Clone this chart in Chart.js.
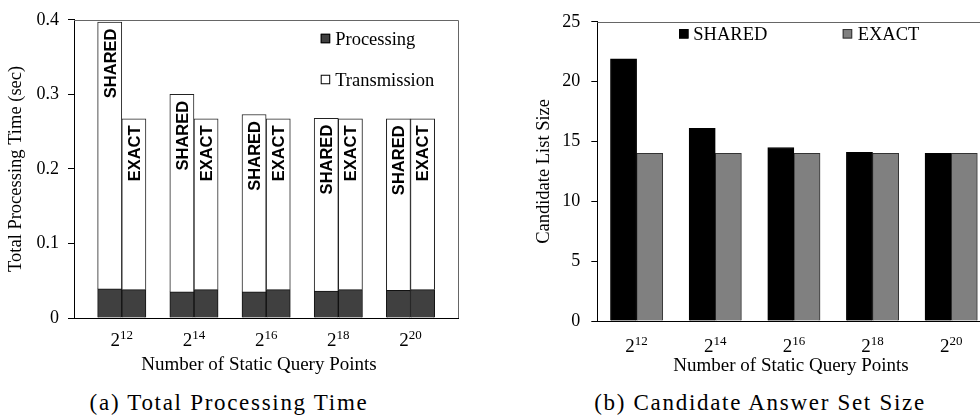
<!DOCTYPE html>
<html>
<head>
<meta charset="utf-8">
<title>Processing time and candidate set size</title>
<script src="https://cdn.jsdelivr.net/npm/chart.js@4.4.1/dist/chart.umd.min.js"></script>
<style>
  html, body { margin: 0; padding: 0; background: #fff; overflow: hidden; width: 980px; height: 415px; }
  .panel { position: absolute; top: 0; height: 390px; }
  #panelA { left: 0; width: 490px; }
  #panelB { left: 490px; width: 520px; }
  .cap {
    position: absolute; top: 391px;
    font-family: 'Liberation Serif', 'Times New Roman', serif;
    font-size: 23px; line-height: 23px; letter-spacing: 1.7px;
    text-align: center; color: #000; white-space: nowrap;
  }
</style>
</head>
<body>
<div class="panel" id="panelA"><canvas id="timeChart" width="490" height="390" style="width:490px;height:390px"></canvas></div>
<div class="panel" id="panelB"><canvas id="sizeChart" width="520" height="390" style="width:520px;height:390px"></canvas></div>
<div class="cap" style="left:0;width:458px">(a) Total Processing Time</div>
<div class="cap" style="left:490px;width:540px">(b) Candidate Answer Set Size</div>

<script>
// Number of static query points is 2^e for each exponent below
const exponents = ['12', '14', '16', '18', '20'];
const methods = ['SHARED', 'EXACT'];

// (a) time split into processing and transmission (sec)
const sharedProcessing   = [0.039, 0.035, 0.035, 0.036, 0.037];
const sharedTransmission = [0.358, 0.265, 0.238, 0.232, 0.230];
const exactProcessing    = [0.038, 0.038, 0.038, 0.038, 0.038];
const exactTransmission  = [0.229, 0.229, 0.229, 0.229, 0.229];
const timeTicks = [0, 0.1, 0.2, 0.3, 0.4];

// (b) candidate list size
const sharedCandidates = [21.9, 16.1, 14.5, 14.1, 14.0];
const exactCandidates  = [14.0, 14.0, 14.0, 14.0, 14.0];
const sizeTicks = [0, 5, 10, 15, 20, 25];

const SERIF = "'Liberation Serif', 'Times New Roman', serif";
const SANS = "'Liberation Sans', Arial, sans-serif";

// Draws the frame, power-of-two tick labels, axis titles, the legend and rotated bar captions
const decor = {
  id: 'decor',
  afterDatasetsDraw(chart, args, o) {
    const ctx = chart.ctx;
    if (!o.barLabels) return;
    ctx.save();
    ctx.fillStyle = '#000';
    ctx.font = 'bold 16.5px ' + SANS;
    ctx.textAlign = 'right';
    ctx.textBaseline = 'alphabetic';
    o.barLabels.forEach(bl => {
      chart.getDatasetMeta(bl.dataset).data.forEach(el => {
        ctx.save();
        ctx.translate(el.x + 5.9, el.y + 6.5);
        ctx.rotate(-Math.PI / 2);
        ctx.fillText(bl.text, 0, 0);
        ctx.restore();
      });
    });
    ctx.restore();
  },
  afterDraw(chart, args, o) {
    const ctx = chart.ctx, a = chart.chartArea;
    ctx.save();
    // top and right edges of the plot frame
    ctx.strokeStyle = o.frameColor;
    ctx.lineWidth = 1;
    ctx.beginPath();
    ctx.moveTo(a.left, Math.round(a.top) + 0.5);
    ctx.lineTo(Math.round(a.right) + 0.5, Math.round(a.top) + 0.5);
    ctx.lineTo(Math.round(a.right) + 0.5, a.bottom);
    ctx.stroke();

    // category labels as 2 with a raised exponent
    const xs = chart.scales.x;
    ctx.fillStyle = '#000';
    ctx.textBaseline = 'alphabetic';
    ctx.textAlign = 'left';
    exponents.forEach((e, i) => {
      const cx = xs.getPixelForValue(i);
      ctx.font = '19px ' + SERIF;
      const wb = ctx.measureText('2').width;
      ctx.font = '13px ' + SERIF;
      const we = ctx.measureText(e).width;
      const x0 = cx - (wb + we) / 2;
      const by = a.bottom + o.labelOffset;
      ctx.font = '19px ' + SERIF;
      ctx.fillText('2', x0, by);
      ctx.font = '13px ' + SERIF;
      ctx.fillText(e, x0 + wb, by - 7);
    });

    // axis titles
    ctx.font = '19px ' + SERIF;
    ctx.textAlign = 'center';
    ctx.fillText(o.xTitle, o.xTitleX, o.xTitleY);
    ctx.save();
    ctx.font = '18.5px ' + SERIF;
    ctx.translate(o.yTitleX, (a.top + a.bottom) / 2);
    ctx.rotate(-Math.PI / 2);
    ctx.textBaseline = 'middle';
    ctx.fillText(o.yTitle, 0, 0);
    ctx.restore();

    // legend
    ctx.font = '18.5px ' + SERIF;
    ctx.textAlign = 'left';
    ctx.textBaseline = 'alphabetic';
    o.legend.forEach(item => {
      const sx = a.left + item.dx, cy = a.top + item.dy, s = 9.5;
      ctx.fillStyle = item.fill;
      ctx.fillRect(sx, cy - s / 2, s, s);
      ctx.strokeStyle = item.stroke;
      ctx.lineWidth = 1;
      ctx.strokeRect(sx + 0.5, cy - s / 2 + 0.5, s - 1, s - 1);
      ctx.fillStyle = '#000';
      ctx.fillText(chart.data.datasets[item.dataset].label, sx + item.gap, cy + 6.2);
    });
    ctx.restore();
  }
};

const pts = arr => arr.map((y, i) => ({ x: i, y }));
const tickFont = { family: SERIF, size: 18 };

const yAxisBase = (ticks, width, pad) => ({
  min: ticks[0],
  max: ticks[ticks.length - 1],
  grid: { display: true, drawOnChartArea: false, drawTicks: true, tickLength: 6, color: '#000', lineWidth: 1 },
  border: { display: true, color: '#000', width: 1 },
  ticks: { font: tickFont, color: '#000', padding: pad, callback: v => String(v) },
  afterBuildTicks: s => { s.ticks = ticks.map(v => ({ value: v })); },
  afterFit: s => { s.width = width; }
});

// (a) stacked processing + transmission, one stack per method
new Chart(document.getElementById('timeChart'), {
  type: 'bar',
  data: {
    datasets: [
      { label: 'Processing', stack: methods[0], data: pts(sharedProcessing),
        backgroundColor: '#404040', borderColor: '#111', borderWidth: 1, barThickness: 24.15 },
      { label: 'Transmission', stack: methods[0], data: pts(sharedTransmission),
        backgroundColor: '#fff', borderColor: '#222', borderWidth: 1, barThickness: 24.15 },
      { label: 'Processing', stack: methods[1], data: pts(exactProcessing),
        backgroundColor: '#404040', borderColor: '#111', borderWidth: 1, barThickness: 24.15 },
      { label: 'Transmission', stack: methods[1], data: pts(exactTransmission),
        backgroundColor: '#fff', borderColor: '#222', borderWidth: 1, barThickness: 24.15 }
    ]
  },
  options: {
    responsive: false, animation: false, devicePixelRatio: 1,
    layout: { padding: { left: 0, top: 19, right: 32, bottom: 0 } },
    scales: {
      x: {
        type: 'linear', min: -0.662, max: 4.658, offset: false,
        grid: { display: false },
        border: { display: true, color: '#000', width: 1 },
        ticks: { display: false },
        afterFit: s => { s.height = 72; }
      },
      y: Object.assign({ stacked: true }, yAxisBase(timeTicks, 74, 9))
    },
    plugins: {
      legend: { display: false },
      tooltip: { enabled: false },
      decor: {
        frameColor: '#666',
        labelOffset: 27.5,
        xTitle: 'Number of Static Query Points', xTitleX: 259, xTitleY: 370,
        yTitle: 'Total Processing Time (sec)', yTitleX: 16.5,
        legend: [
          { dataset: 0, fill: '#404040', stroke: '#000', dx: 246.7, dy: 18.7, gap: 14.5 },
          { dataset: 1, fill: '#fff', stroke: '#000', dx: 246.7, dy: 59.7, gap: 14.5 }
        ],
        barLabels: [
          { dataset: 1, text: methods[0] },
          { dataset: 3, text: methods[1] }
        ]
      }
    }
  },
  plugins: [decor]
});

// (b) candidate list size per method
new Chart(document.getElementById('sizeChart'), {
  type: 'bar',
  data: {
    labels: exponents,
    datasets: [
      { label: methods[0], data: sharedCandidates,
        backgroundColor: '#000', borderColor: '#000', borderWidth: 1, barThickness: 26.15 },
      { label: methods[1], data: exactCandidates,
        backgroundColor: '#808080', borderColor: '#333', borderWidth: 1, barThickness: 26.15 }
    ]
  },
  options: {
    responsive: false, animation: false, devicePixelRatio: 1,
    layout: { padding: { left: 0, top: 19, right: 19.5, bottom: 0 } },
    scales: {
      x: {
        grid: { display: false },
        border: { display: true, color: '#000', width: 1 },
        ticks: { display: false },
        afterFit: s => { s.height = 69; }
      },
      y: yAxisBase(sizeTicks, 107.3, 11)
    },
    plugins: {
      legend: { display: false },
      tooltip: { enabled: false },
      decor: {
        frameColor: '#666',
        labelOffset: 30.5,
        xTitle: 'Number of Static Query Points', xTitleX: 301, xTitleY: 371,
        yTitle: 'Candidate List Size', yTitleX: 54,
        legend: [
          { dataset: 0, fill: '#000', stroke: '#000', dx: 81.7, dy: 12, gap: 14.3 },
          { dataset: 1, fill: '#808080', stroke: '#333', dx: 245.4, dy: 12, gap: 15 }
        ]
      }
    }
  },
  plugins: [decor]
});
</script>
</body>
</html>
